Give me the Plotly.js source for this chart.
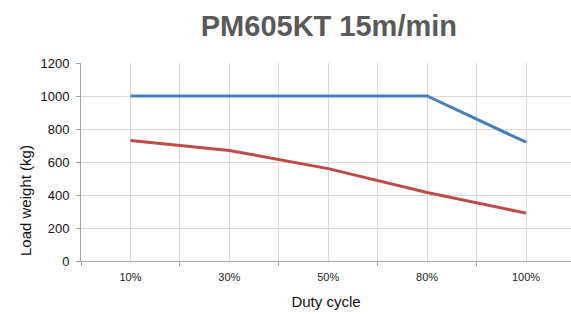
<!DOCTYPE html>
<html><head><meta charset="utf-8">
<script src="https://cdn.plot.ly/plotly-3.0.1.min.js"></script>
<style>html,body{margin:0;padding:0;background:#fff}#c{width:571px;height:314px}</style>
</head><body><div id="c"></div>
<script>
const categories = ["10%", "30%", "50%", "80%", "100%"];
const seriesBlue = [1000, 1000, 1000, 1000, 720];
const seriesRed = [730, 670, 560, 415, 290];
const yTicks = [0, 200, 400, 600, 800, 1000, 1200];

const idx = categories.map((_, i) => i);
const bounds = categories.map((_, i) => i - 0.5);

const traces = [
  {x: idx, y: seriesBlue, type: "scatter", mode: "lines", line: {color: "#4a7ebb", width: 3}, hoverinfo: "none"},
  {x: idx, y: seriesRed, type: "scatter", mode: "lines", line: {color: "#be4b48", width: 3}, hoverinfo: "none"}
];

const layout = {
  width: 571, height: 314,
  margin: {l: 81, r: 0, t: 63, b: 53},
  paper_bgcolor: "#fff", plot_bgcolor: "#fff",
  showlegend: false,
  font: {family: "Liberation Sans, Arial, sans-serif", color: "#000"},
  title: {text: "PM605KT 15m/min", font: {size: 29, color: "#595959", weight: "bold"}, x: 0.576, xanchor: "center", y: 0.917, yanchor: "middle"},
  xaxis: {
    range: [-0.5, 4.455],
    tickvals: idx, ticktext: categories,
    ticks: "", showgrid: true, gridcolor: "#d9d9d9", gridwidth: 1,
    zeroline: false, showline: true, linecolor: "#a6a6a6", linewidth: 1,
    tickfont: {size: 11, color: "#222"}, ticklabelstandoff: 6,
    minor: {tickvals: bounds, showgrid: true, gridcolor: "#d9d9d9", ticks: "outside", ticklen: 4, tickcolor: "#a6a6a6"},
    title: {text: "Duty cycle", font: {size: 15, color: "#111"}, standoff: 14}
  },
  yaxis: {
    range: [0, 1200], tickvals: yTicks,
    ticks: "outside", ticklen: 4, tickcolor: "#a6a6a6",
    showgrid: true, gridcolor: "#d9d9d9", gridwidth: 1,
    zeroline: false, showline: true, linecolor: "#a6a6a6", linewidth: 1,
    tickfont: {size: 13, color: "#111"}, ticklabelstandoff: 4
  },
  annotations: [{
    text: "Load weight (kg)", textangle: -90, showarrow: false,
    xref: "paper", yref: "paper", x: (25 - 81) / 490, y: (261 - 201) / 198,
    xanchor: "center", yanchor: "middle",
    font: {size: 15, color: "#111"}
  }]
};
Plotly.newPlot("c", traces, layout, {staticPlot: true, displayModeBar: false});
</script></body></html>
